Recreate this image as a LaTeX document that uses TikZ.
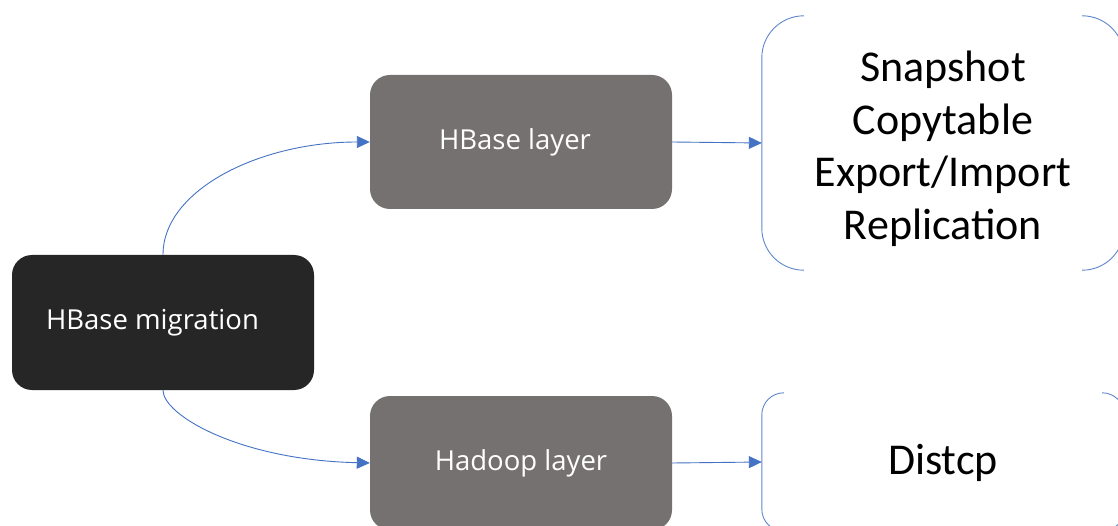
\documentclass[tikz,border=0pt]{standalone}
\usepackage{fontspec}
\setmainfont{Carlito}
\newfontfamily\boxfont{Open Sans}
\usetikzlibrary{arrows.meta,calc}
\definecolor{darkbox}{HTML}{262626}
\definecolor{graybox}{HTML}{767171}
\definecolor{linkblue}{HTML}{4472C4}
\begin{document}
\begin{tikzpicture}[x=1pt,y=-1pt,
  boxnode/.style={rounded corners=20pt, text=white, minimum width=302pt, minimum height=134pt,
    inner sep=0pt, font=\boxfont\fontsize{27.5}{32}\selectfont},
  listnode/.style={inner sep=0pt, minimum width=362pt, align=center,
    font=\fontsize{44}{52.5}\selectfont},
  linkarrow/.style={draw=linkblue, line width=0.9pt, -{Triangle[length=13pt,width=12pt]}, fill=none},
  bracketline/.style={draw=linkblue!85, line width=0.9pt}]
\useasboundingbox (0,0) rectangle (1118,526);
\clip (0,0) rectangle (1118,526);
\fill[white] (0,0) rectangle (1118,526);

\node[boxnode, fill=darkbox, minimum height=135pt] (mig) at (163,322.5) {HBase migration\kern21pt};
\node[boxnode, fill=graybox] (hb) at (521,142) {HBase layer\kern12pt};
\node[boxnode, fill=graybox] (hd) at (521,463) {Hadoop layer};

\node[listnode, minimum height=254pt] (methods) at (943,143) {\rule{0pt}{42pt}Snapshot\\Copytable\\Export/Import\\Replication};
\node[listnode, minimum height=138pt] (dist) at (943,462) {\rule{0pt}{33pt}Distcp};

% brackets
\draw[bracketline, rounded corners=42pt] ($(methods.north west)+(42,0)$) -- (methods.north west) -- (methods.south west) -- ($(methods.south west)+(42,0)$);
\draw[bracketline, rounded corners=42pt] ($(methods.north east)+(-42,0)$) -- (methods.north east) -- (methods.south east) -- ($(methods.south east)+(-42,0)$);
\draw[bracketline, rounded corners=22pt] ($(dist.north west)+(22,0)$) -- (dist.north west) -- (dist.south west) -- ($(dist.south west)+(22,0)$);
\draw[bracketline, rounded corners=22pt] ($(dist.north east)+(-22,0)$) -- (dist.north east) -- (dist.south east) -- ($(dist.south east)+(-22,0)$);

% connectors
\draw[linkarrow] (mig.north) .. controls +(0,-65) and +(-110,0) .. (hb.west);
\draw[linkarrow] (mig.south) .. controls +(0,25) and +(-130,-3) .. (hd.west);
\draw[linkarrow] (hb.east) -- (methods.west);
\draw[linkarrow] (hd.east) -- (dist.west);
\end{tikzpicture}
\end{document}
